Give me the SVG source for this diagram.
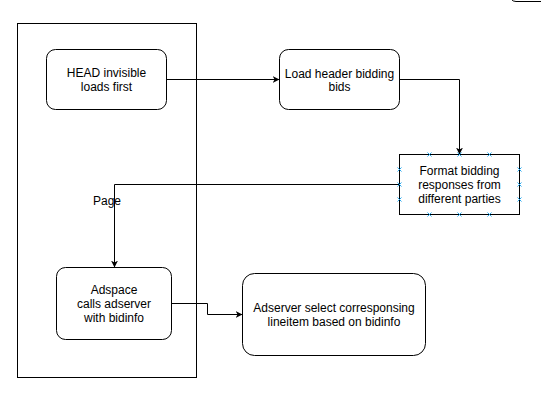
<svg xmlns="http://www.w3.org/2000/svg" width="541" height="400" viewBox="0 0 541 400">
<style>
.box{fill:#fff;stroke:#000;stroke-width:1}
.t{font-family:"Liberation Sans",Arial,sans-serif;font-size:12px;fill:#000;text-anchor:middle}
.c{fill:none;stroke:#000;stroke-width:1}
.m{stroke:#29a9f0;stroke-width:1;fill:none}
</style>
<defs>
<marker id="a" viewBox="0 0 10 10" refX="10" refY="5" markerWidth="7" markerHeight="7" markerUnits="userSpaceOnUse" orient="auto">
<path d="M0,0 L10,5 L0,10 L3,5 Z" fill="#000"/>
</marker>
</defs>
<rect width="541" height="400" fill="#fff"/>
<path class="c" d="M509.5,-8 Q509.5,1.5 516,1.5 L541,1.5"/>
<g id="page"><rect class="box" x="17.5" y="23.5" width="179" height="354"/></g>
<g id="connectors">
<path class="c" d="M166.5,79.5 L279.5,79.5" marker-end="url(#a)"/>
<path class="c" d="M399.5,79.5 L459.5,79.5 L459.5,154.5" marker-end="url(#a)"/>
<path class="c" d="M399.5,184.5 L114.5,184.5 L114.5,267.5" marker-end="url(#a)"/>
<text class="t" x="107" y="205">Page</text>
<path class="c" d="M171.5,303.5 L207.5,303.5 L207.5,314.5 L242.5,314.5" marker-end="url(#a)"/>
</g>
<g id="head"><rect class="box" x="46.5" y="49.5" width="120" height="60" rx="9"/>
<text class="t" x="106.5" y="76.5">HEAD invisible</text><text class="t" x="106.5" y="90.5">loads first</text></g>
<g id="load"><rect class="box" x="279.5" y="49.5" width="120" height="60" rx="9"/>
<text class="t" x="339.5" y="77.5">Load header bidding</text><text class="t" x="339.5" y="91">bids</text></g>
<g id="format"><rect class="box" x="399.5" y="154.5" width="120" height="60"/>
<text class="t" x="459.5" y="175">Format bidding</text><text class="t" x="459.5" y="189">responses from</text><text class="t" x="459.5" y="203">different parties</text>
<path class="m" d="M427.5,152.5l4,4m0,-4l-4,4 M457.5,152.5l4,4m0,-4l-4,4 M487.5,152.5l4,4m0,-4l-4,4 M427.5,212.5l4,4m0,-4l-4,4 M457.5,212.5l4,4m0,-4l-4,4 M487.5,212.5l4,4m0,-4l-4,4 M397.5,167.5l4,4m0,-4l-4,4 M397.5,182.5l4,4m0,-4l-4,4 M397.5,197.5l4,4m0,-4l-4,4 M517.5,167.5l4,4m0,-4l-4,4 M517.5,182.5l4,4m0,-4l-4,4 M517.5,197.5l4,4m0,-4l-4,4"/></g>
<g id="adspace"><rect class="box" x="56.5" y="267.5" width="115" height="72" rx="9"/>
<text class="t" x="114" y="293.5">Adspace</text><text class="t" x="114" y="307.5">calls adserver</text><text class="t" x="114" y="321.5">with bidinfo</text></g>
<g id="adserver"><rect class="box" x="242.5" y="273.5" width="183" height="82" rx="12"/>
<text class="t" x="334" y="312">Adserver select corresponsing</text><text class="t" x="334" y="326">lineitem based on bidinfo</text></g>
</svg>
